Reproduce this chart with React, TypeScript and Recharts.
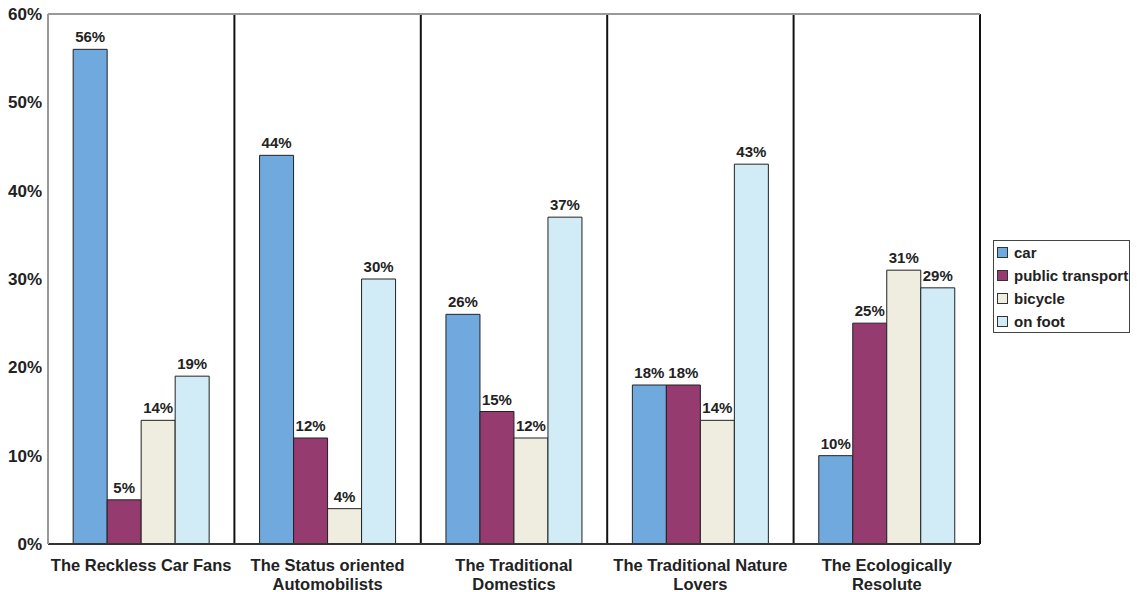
import { BarChart, Bar, XAxis, YAxis, CartesianGrid, LabelList, ReferenceLine } from "recharts";

const segments = [
  "The Reckless Car Fans",
  "The Status oriented\nAutomobilists",
  "The Traditional\nDomestics",
  "The Traditional Nature\nLovers",
  "The Ecologically\nResolute",
];
const car = [56, 44, 26, 18, 10];
const publicTransport = [5, 12, 15, 18, 25];
const bicycle = [14, 4, 12, 14, 31];
const onFoot = [19, 30, 37, 43, 29];
const yTicks = [0, 10, 20, 30, 40, 50, 60];

const series = [
  { key: "car", name: "car", color: "#6fa9dd" },
  { key: "publicTransport", name: "public transport", color: "#963b6f" },
  { key: "bicycle", name: "bicycle", color: "#eeeddf" },
  { key: "onFoot", name: "on foot", color: "#d1ecf6" },
];

const data = segments.map((segment, i) => ({
  segment,
  car: car[i],
  publicTransport: publicTransport[i],
  bicycle: bicycle[i],
  onFoot: onFoot[i],
}));

const font = "'Liberation Sans', Arial, sans-serif";

function SegmentTick({ x, y, payload }: any) {
  const lines = String(payload.value).split("\n");
  return (
    <text x={x} y={y + 19} textAnchor="middle" fontFamily={font} fontSize={16.5} fontWeight="bold" fill="#222">
      {lines.map((line, i) => (
        <tspan key={i} x={x} dy={i === 0 ? 0 : 18.5}>
          {line}
        </tspan>
      ))}
    </text>
  );
}

function LegendBox() {
  return (
    <div
      style={{
        position: "absolute",
        left: 993,
        top: 240,
        border: "1px solid #444",
        padding: "0 0 0 3px",
        width: 132,
        height: 91,
        background: "#fff",
        fontFamily: font,
        fontSize: 15,
        fontWeight: "bold",
        color: "#222",
      }}
    >
      {series.map((s) => (
        <div key={s.key} style={{ display: "flex", alignItems: "center", height: 23 }}>
          <span
            style={{
              width: 9,
              height: 9,
              background: s.color,
              border: "1px solid #333",
              marginRight: 6,
              display: "inline-block",
            }}
          />
          {s.name}
        </div>
      ))}
    </div>
  );
}

export default function App() {
  return (
    <div style={{ position: "absolute", left: 0, top: 0, width: 1137, height: 592, background: "#fff" }}>
      <style>{`body{margin:0}`}</style>
      <BarChart
        width={1137}
        height={592}
        data={data}
        margin={{ top: 14, right: 157, bottom: 0, left: 0 }}
        barCategoryGap="13.5%"
        barGap={0}
      >
        <CartesianGrid
          horizontal={false}
          stroke="#111"
          strokeWidth={2}
          verticalCoordinatesGenerator={({ offset }: any) =>
            segments.map((_, i) => offset.left + (offset.width * (i + 1)) / segments.length)
          }
        />
        <ReferenceLine y={60} stroke="#999" strokeWidth={2} />
        <XAxis
          dataKey="segment"
          height={48}
          tick={<SegmentTick />}
          tickLine={false}
          axisLine={{ stroke: "#333", strokeWidth: 2 }}
          interval={0}
        />
        <YAxis
          width={48}
          domain={[0, 60]}
          ticks={yTicks}
          tickFormatter={(v) => `${v}%`}
          tickLine={false}
          axisLine={{ stroke: "#999", strokeWidth: 2 }}
          tick={{ fontFamily: font, fontSize: 17, fontWeight: "bold", fill: "#222", dx: 2 }}
        />
        {series.map((s) => (
          <Bar key={s.key} dataKey={s.key} name={s.name} fill={s.color} stroke="#222" strokeWidth={1} isAnimationActive={false}>
            <LabelList
              dataKey={s.key}
              position="top"
              offset={7}
              formatter={(v: any) => `${v}%`}
              style={{ fontFamily: font, fontSize: 15, fontWeight: "bold", fill: "#222" }}
            />
          </Bar>
        ))}
      </BarChart>
      <LegendBox />
    </div>
  );
}
